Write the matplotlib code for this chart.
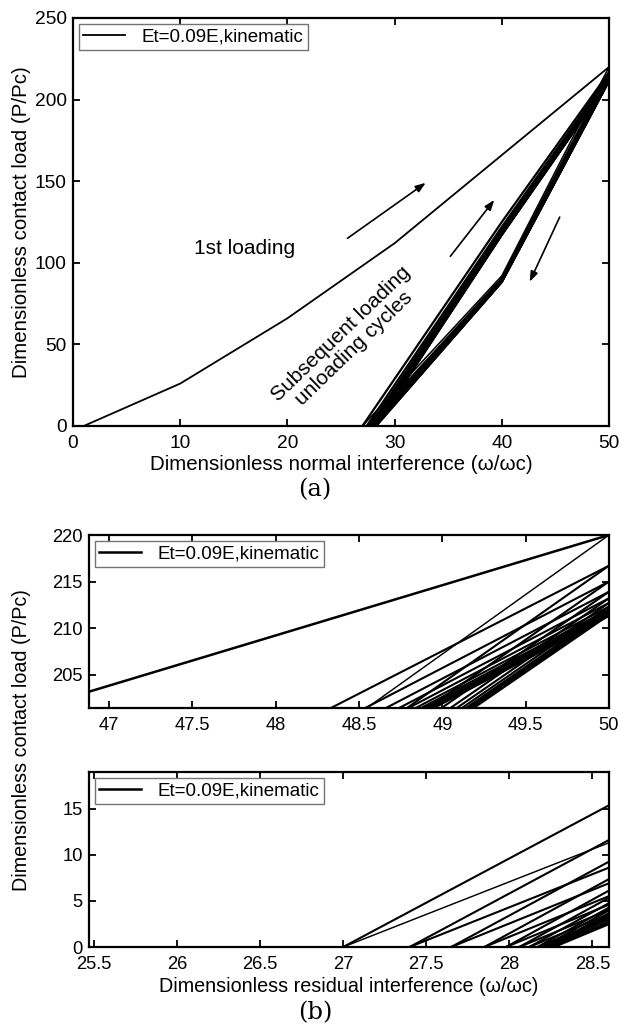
import matplotlib
matplotlib.use("Agg")
import matplotlib.pyplot as plt

plt.rcParams['font.family'] = ['Liberation Sans', 'DejaVu Sans']

# ---------------- data ----------------
legend_label = "Et=0.09E,kinematic"

first_x = [1, 10, 20, 30, 40, 50]
first_y = [0, 26, 66, 112, 166, 220]

# peak load at omega=50 before each unloading (first = end of 1st loading)
cycle_peak = [220, 216.7, 215.0, 213.9, 213.2, 212.7, 212.3, 212.0, 211.8, 211.6, 211.5, 211.4, 211.3]
# residual interference after each unloading
cycle_residual = [27.0, 27.4, 27.65, 27.85, 27.98, 28.06, 28.12, 28.17, 28.2, 28.23, 28.25, 28.27]
# load at omega=40 while unloading / reloading
cycle_unload40 = [92, 90.5, 90, 89.5, 89.2, 89, 88.8, 88.6, 88.5, 88.4, 88.3, 88.2]
cycle_reload40 = [125, 122, 120.5, 119.5, 118.8, 118.3, 118, 117.7, 117.5, 117.3, 117.2, 117.1]

top_xticks = [0, 10, 20, 30, 40, 50]
top_yticks = [0, 50, 100, 150, 200, 250]
mid_xticks = [47, 47.5, 48, 48.5, 49, 49.5, 50]
mid_xticklabels = ['47', '47.5', '48', '48.5', '49', '49.5', '50']
mid_yticks = [205, 210, 215, 220]
bot_xticks = [25.5, 26, 26.5, 27, 27.5, 28, 28.5]
bot_xticklabels = ['25.5', '26', '26.5', '27', '27.5', '28', '28.5']
bot_yticks = [0, 5, 10, 15]

# ---------------- figure ----------------
W, H = 620, 1026
fig = plt.figure(figsize=(W / 100, H / 100), dpi=100)

def box(l, t, r, b):
    return [l / W, 1 - b / H, (r - l) / W, (b - t) / H]

ax1 = fig.add_axes(box(73, 18, 609, 426))
ax2 = fig.add_axes(box(89, 535, 609, 708))
ax3 = fig.add_axes(box(89, 772, 609, 947))

TICK_A, LAB_A = 13.8, 14.8
TICK_B, LAB_B = 13.2, 14.2
LEG = 13.5


def draw_cycles(ax, lw):
    n = len(cycle_residual)
    for k in range(n):
        ax.plot([50, 40, cycle_residual[k]], [cycle_peak[k], cycle_unload40[k], 0],
                color='black', lw=(lw * 0.7 if k == 0 else lw), solid_capstyle='butt')
        ax.plot([cycle_residual[k], 40, 50], [0, cycle_reload40[k], cycle_peak[k + 1]],
                color='black', lw=lw, solid_capstyle='butt')


def style(ax, fs):
    for s in ax.spines.values():
        s.set_linewidth(1.6)
    ax.tick_params(direction='in', top=True, right=True, length=5, width=1.3,
                   labelsize=fs)
    ax.tick_params(axis='x', pad=6.5)
    ax.tick_params(axis='y', pad=4.5)


def add_legend(ax, handle):
    ax.legend(handles=[handle], loc='upper left', fontsize=LEG, frameon=True, fancybox=False,
              edgecolor='0.45', framealpha=1, borderaxespad=0.3, handlelength=2.2,
              borderpad=0.25, handletextpad=0.9)


# --- (a) ---
line, = ax1.plot(first_x, first_y, color='black', lw=1.3, label=legend_label)
draw_cycles(ax1, 1.6)
ax1.set_xlim(0, 50)
ax1.set_ylim(0, 250)
ax1.set_xticks(top_xticks)
ax1.set_yticks(top_yticks)
style(ax1, TICK_A)
ax1.set_xlabel("Dimensionless normal interference (\u03c9/\u03c9c)", fontsize=LAB_A, labelpad=2.5)
fig.text(22 / W, 1 - 222 / H, "Dimensionless contact load (P/Pc)", fontsize=LAB_A,
         rotation=90, ha='center', va='center')
add_legend(ax1, line)
ax1.text(16, 109, "1st loading", fontsize=15, ha='center', va='center')
ax1.text(25.6, 52, "Subsequent loading\nunloading cycles", fontsize=15, ha='center',
         va='center', rotation=44, rotation_mode='anchor', linespacing=1.0)
arrow = dict(arrowstyle='-|>,head_length=0.6,head_width=0.22', color='black', lw=1.2,
             shrinkA=0, shrinkB=0)
ax1.annotate('', xy=(32.9, 149), xytext=(25.6, 115), arrowprops=arrow)
ax1.annotate('', xy=(39.3, 138.5), xytext=(35.2, 104), arrowprops=arrow)
ax1.annotate('', xy=(42.6, 88.4), xytext=(45.4, 128), arrowprops=arrow)
fig.text(315 / W, 1 - 490 / H, "(a)", fontsize=17.5, family='DejaVu Serif',
         ha='center', va='center')

# --- (b) middle ---
l2, = ax2.plot(first_x, first_y, color='black', lw=1.8, label=legend_label)
draw_cycles(ax2, 1.5)
ax2.set_xlim(46.88, 50)
ax2.set_ylim(201.4, 220)
ax2.set_xticks(mid_xticks)
ax2.set_xticklabels(mid_xticklabels)
ax2.set_yticks(mid_yticks)
style(ax2, TICK_B)
add_legend(ax2, l2)

# --- (b) bottom ---
l3, = ax3.plot(first_x, first_y, color='black', lw=1.8, label=legend_label)
draw_cycles(ax3, 1.5)
ax3.set_xlim(25.47, 28.6)
ax3.set_ylim(0, 19)
ax3.set_xticks(bot_xticks)
ax3.set_xticklabels(bot_xticklabels)
ax3.set_yticks(bot_yticks)
style(ax3, TICK_B)
ax3.set_xlabel("Dimensionless residual interference (\u03c9/\u03c9c)", fontsize=LAB_B, labelpad=3)
add_legend(ax3, l3)

fig.text(22 / W, 1 - 740 / H, "Dimensionless contact load (P/Pc)", fontsize=LAB_B,
         rotation=90, ha='center', va='center')
fig.text(315 / W, 1 - 1013 / H, "(b)", fontsize=17.5, family='DejaVu Serif',
         ha='center', va='center')

fig.savefig("out.png", dpi=100)
